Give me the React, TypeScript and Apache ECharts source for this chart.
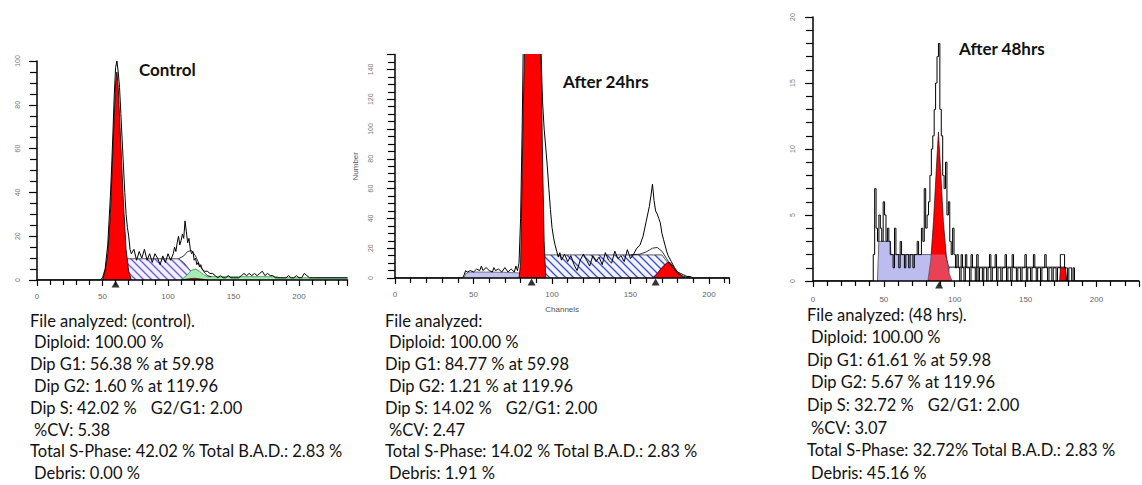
import React, { useEffect, useRef } from "react";
import * as echarts from "echarts";

type P = [number, number][];

// ---------- Panel A : Control ----------
const ctrlRaw: P = [
  [0, 0], [48, 0], [50, 1], [52, 5], [54, 16], [56, 38], [57, 52], [58, 68], [59, 85], [60, 97], [61, 100],
  [62, 95], [63, 88], [64, 76], [65, 64], [66, 52], [67, 40], [68, 30], [69, 24], [70, 20], [71, 14], [72, 12],
  [74, 14], [76, 9], [78, 13], [80, 10], [82, 14], [84, 9], [86, 12], [88, 8], [90, 12], [92, 10], [94, 7],
  [96, 11], [98, 8], [100, 12], [102, 9], [104, 12], [105, 15], [106, 13], [107, 17], [108, 20], [109, 16],
  [110, 18], [111, 21], [112, 19], [113, 27], [114, 22], [115, 17], [116, 19], [117, 14], [118, 12], [119, 13],
  [120, 9], [121, 10], [122, 7], [123, 8], [124, 6], [125, 7], [126, 5], [128, 4], [130, 4], [132, 3], [134, 3],
  [136, 2], [138, 1], [140, 2], [142, 1], [144, 1], [146, 2], [148, 1], [150, 1], [152, 1], [154, 1], [156, 2],
  [158, 3], [160, 2], [162, 3], [164, 2], [166, 3], [168, 2], [170, 3], [172, 4], [174, 2], [176, 3], [178, 2],
  [180, 2], [182, 1], [184, 1], [186, 1], [188, 1], [190, 1], [192, 2], [194, 1], [196, 1], [198, 2], [200, 1],
  [202, 1], [204, 3], [206, 2], [208, 1], [210, 1], [212, 1], [237, 1],
];
const ctrlG1: P = [
  [50, 0], [52, 4], [54, 12], [56, 30], [58, 60], [60, 90], [61, 95], [62, 88], [64, 62], [66, 35], [68, 14],
  [70, 4], [72, 0],
];
const ctrlS: P = [
  [58, 0], [62, 4], [66, 8], [68, 9.7], [108, 9.7], [112, 8], [116, 5], [120, 2.5], [124, 0.5], [126, 0],
];
const ctrlFit: P = [
  [108, 9.7], [112, 11], [115, 13], [118, 13.5], [121, 11], [124, 7], [127, 4], [130, 2], [133, 1.5],
];
const ctrlG2: P = [[110, 0], [115, 0.5], [120, 0.8], [125, 0.5], [130, 0]];
const ctrlDebris: P = [
  [110, 0], [114, 2], [118, 4.5], [121, 5], [124, 4], [127, 2.5], [130, 1.5], [183, 1.5], [185, 1], [237, 1],
];
const ctrlMarks = [60];

// ---------- Panel B : After 24hrs ----------
const h24Raw: P = [
  [0, 0], [43, 0], [44, 2], [45, 5], [46, 4], [48, 5], [50, 4], [52, 6], [54, 5], [55, 8], [56, 5], [58, 7],
  [60, 5], [62, 4], [63, 7], [64, 5], [66, 6], [68, 4], [70, 7], [72, 4], [74, 6], [76, 4], [77, 8], [78, 5],
  [79, 10], [80, 40], [81, 100], [82, 180], [86, 300], [90, 250], [92, 190], [93, 150], [94, 118], [95, 100],
  [96, 88], [97, 75], [98, 60], [99, 46], [100, 34], [101, 27], [102, 22], [103, 18], [104, 14], [105, 17],
  [106, 12], [108, 16], [110, 11], [112, 15], [114, 9], [116, 5], [118, 12], [120, 16], [122, 12], [124, 8],
  [126, 15], [128, 11], [130, 14], [132, 9], [134, 17], [136, 12], [138, 10], [140, 18], [142, 13], [144, 15],
  [146, 11], [148, 19], [150, 13], [152, 16], [154, 20], [156, 22], [158, 28], [160, 38], [162, 48], [163, 55],
  [164, 63], [165, 52], [166, 45], [167, 43], [168, 40], [169, 37], [170, 30], [171, 26], [172, 22], [173, 18],
  [174, 15], [176, 11], [178, 7], [180, 4], [182, 3], [184, 2], [186, 1], [188, 1], [190, 0], [213, 0],
];
const h24G1: P = [
  [79, 0], [80, 10], [81, 70], [82, 130], [83, 170], [86, 300], [90, 280], [92, 200], [93, 150], [94, 80],
  [95, 25], [96, 0],
];
const h24S: P = [
  [80, 0], [84, 4], [88, 9], [92, 13.5], [95, 15.5], [170, 15.5], [174, 10], [178, 4], [182, 0],
];
const h24Fit: P = [
  [150, 15.5], [156, 16], [160, 17.5], [164, 20], [167, 20.5], [170, 18], [173, 13], [176, 8], [180, 3],
  [184, 1], [188, 0],
];
const h24G2: P = [
  [164, 0], [167, 3], [170, 7], [173, 10], [175, 10.5], [177, 8], [180, 4], [183, 1], [185, 0],
];
const h24Debris: P = [
  [44, 0], [45, 3], [48, 4], [60, 4], [70, 3.8], [78, 3.5], [84, 2.5], [90, 1.5], [96, 0.5], [100, 0],
];
const h24Marks = [87, 166];

// ---------- Panel C : After 48hrs ----------
const h48Raw: P = [
  [0, 0], [42, 0], [43, 2], [44, 7], [45, 4], [46, 3], [47, 5], [48, 4], [49, 3], [50, 6], [51, 5], [52, 3],
  [53, 4], [54, 3], [55, 2], [56, 2], [57, 1], [58, 4], [59, 2], [60, 2], [61, 1], [62, 3], [63, 2], [64, 2],
  [65, 1], [66, 2], [67, 2], [68, 1], [69, 2], [70, 2], [71, 1], [72, 2], [73, 2], [74, 3], [75, 2], [76, 2],
  [77, 4], [78, 3], [79, 7], [80, 4], [81, 5], [82, 6], [83, 8], [84, 10], [85, 11], [86, 13], [87, 15],
  [88, 17], [89, 18], [90, 13], [91, 11], [92, 8], [93, 7], [94, 9], [95, 5], [96, 6], [97, 3], [98, 2],
  [99, 4], [100, 2], [101, 1], [102, 2], [103, 1], [104, 0], [105, 2], [106, 1], [107, 0], [108, 2], [109, 1],
  [110, 1], [111, 0], [112, 2], [113, 1], [114, 1], [115, 0], [116, 2], [117, 0], [118, 1], [119, 1], [120, 0],
  [121, 1], [122, 1], [123, 0], [124, 1], [125, 2], [126, 0], [127, 1], [128, 1], [129, 2], [130, 0], [131, 1],
  [132, 1], [133, 0], [134, 1], [135, 1], [136, 2], [137, 0], [138, 1], [139, 1], [140, 0], [141, 2], [142, 1],
  [143, 1], [144, 0], [145, 1], [146, 1], [147, 0], [148, 1], [149, 1], [150, 2], [151, 0], [152, 1], [153, 1],
  [154, 0], [155, 1], [156, 2], [157, 1], [158, 0], [159, 1], [160, 1], [161, 0], [162, 1], [163, 1], [164, 2],
  [165, 1], [166, 0], [167, 1], [168, 1], [169, 0], [170, 1], [171, 1], [172, 0], [173, 1], [174, 1], [175, 2],
  [176, 2], [177, 2], [178, 1], [179, 1], [180, 0], [181, 1], [182, 1], [183, 0], [184, 1], [185, 0], [230, 0],
];
const h48G1: P = [
  [81, 0], [83, 1.5], [85, 4.5], [87, 8.5], [88.5, 11.3], [90, 8.5], [92, 4.5], [94, 2], [96, 0.6], [98, 0],
];
const h48S: P = [[95, 0], [96, 1.05], [178, 1.05], [179, 0]];
const h48G2: P = [[174, 0], [174.5, 1], [178, 1], [178.5, 0]];
const h48Debris: P = [
  [45.5, 0], [46.5, 3], [54.5, 3], [55, 2], [93, 2], [96, 1], [98, 0],
];
const h48Marks = [89];

// ---------- Axes ----------
const xMaxes = [237, 213, 230];
const yMaxes = [100, 150, 20];
const yIntervals = [20, 20, 5];
const yMinorSplits = [4, 4, 5];

// ---------- Texts ----------
const titles = ["Control", "After 24hrs", "After 48hrs"];
const ctrlInfo = [
  "File analyzed: (control).",
  " Diploid: 100.00 %",
  "Dip G1: 56.38 % at 59.98",
  " Dip G2: 1.60 % at 119.96",
  "Dip S: 42.02 %   G2/G1: 2.00",
  " %CV: 5.38",
  "Total S-Phase: 42.02 % Total B.A.D.: 2.83 %",
  " Debris: 0.00 %",
];
const h24Info = [
  "File analyzed:",
  " Diploid: 100.00 %",
  "Dip G1: 84.77 % at 59.98",
  " Dip G2: 1.21 % at 119.96",
  "Dip S: 14.02 %   G2/G1: 2.00",
  " %CV: 2.47",
  "Total S-Phase: 14.02 % Total B.A.D.: 2.83 %",
  " Debris: 1.91 %",
];
const h48Info = [
  "File analyzed: (48 hrs).",
  " Diploid: 100.00 %",
  "Dip G1: 61.61 % at 59.98",
  " Dip G2: 5.67 % at 119.96",
  "Dip S: 32.72 %   G2/G1: 2.00",
  " %CV: 3.07",
  "Total S-Phase: 32.72% Total B.A.D.: 2.83 %",
  " Debris: 45.16 %",
];

const GRIDS = [
  { left: 37, top: 61, width: 310.5, height: 219 },
  { left: 395, top: 54.5, width: 334.4, height: 223.5 },
  { left: 813, top: 17, width: 328, height: 264 },
];
const TEXT_FONT = "Lato, 'Open Sans', sans-serif";
const INFO_SIZE = 16.5;

function makeHatch(line: string, bg: string) {
  const c = document.createElement("canvas");
  c.width = 8;
  c.height = 8;
  const g = c.getContext("2d")!;
  g.fillStyle = bg;
  g.fillRect(0, 0, 8, 8);
  g.strokeStyle = line;
  g.lineWidth = 1.3;
  g.beginPath();
  g.moveTo(-1, -1);
  g.lineTo(9, 9);
  g.moveTo(-1, 7);
  g.lineTo(1, 9);
  g.moveTo(7, -1);
  g.lineTo(9, 1);
  g.stroke();
  return c;
}

function area(data: P, gi: number, fill: any, stroke: string, lw: number, z: number, opacity = 1): any {
  return {
    type: "line",
    data,
    xAxisIndex: gi,
    yAxisIndex: gi,
    showSymbol: false,
    symbol: "none",
    silent: true,
    z,
    lineStyle: { color: stroke, width: lw, opacity: lw > 0 ? 1 : 0 },
    areaStyle: { color: fill, opacity },
  };
}

function rawLine(data: P, gi: number, step: any): any {
  return {
    type: "line",
    data,
    xAxisIndex: gi,
    yAxisIndex: gi,
    showSymbol: false,
    symbol: "none",
    silent: true,
    step,
    z: 8,
    lineStyle: { color: "#000", width: 1 },
  };
}

function marks(xs: number[], gi: number): any {
  return {
    type: "scatter",
    data: xs.map((x) => [x, 0]),
    xAxisIndex: gi,
    yAxisIndex: gi,
    symbol: "triangle",
    symbolSize: [8, 7],
    symbolOffset: [0, 4],
    clip: false,
    silent: true,
    z: 12,
    itemStyle: { color: "#000" },
  };
}

export default function App() {
  const ref = useRef<HTMLDivElement>(null);
  useEffect(() => {
    if (!ref.current) return;
    const chart = echarts.init(ref.current, undefined, { renderer: "svg" });
    const hatchA = makeHatch("#6a5ad8", "#f2f0ff");
    const hatchB = makeHatch("#3a4ed0", "#f2f2ff");

    const meas = document.createElement("canvas").getContext("2d")!;
    meas.font = `${INFO_SIZE}px ${TEXT_FONT}`;

    const xAxis = xMaxes.map((mx, i) => ({
      type: "value",
      gridIndex: i,
      min: 0,
      max: mx,
      interval: 50,
      z: 6,
      name: i === 1 ? "Channels" : "",
      nameLocation: "middle",
      nameGap: 27,
      nameTextStyle: { fontSize: 8, color: "#555", fontFamily: "Liberation Sans" },
      axisLine: { show: true, lineStyle: { color: "#000", width: 1.5 } },
      axisTick: { show: true, length: 6, lineStyle: { color: "#000", width: 1.2 } },
      minorTick: { show: true, splitNumber: 5, length: 5, lineStyle: { color: "#000", width: 1.2 } },
      splitLine: { show: false },
      minorSplitLine: { show: false },
      axisLabel: {
        fontSize: 8,
        color: "#666",
        fontFamily: "Liberation Sans",
        margin: [12, 12, 14][i],
        formatter: (v: number) => (v % 50 === 0 ? String(v) : ""),
      },
    }));
    const yAxis = yMaxes.map((mx, i) => ({
      type: "value",
      gridIndex: i,
      min: 0,
      max: mx,
      interval: yIntervals[i],
      z: 6,
      name: i === 1 ? "Number" : "",
      nameLocation: "middle",
      nameRotate: 90,
      nameGap: 36,
      nameTextStyle: { fontSize: 8, color: "#555", fontFamily: "Liberation Sans" },
      axisLine: { show: true, lineStyle: { color: "#000", width: 1.5 } },
      axisTick: { show: true, length: 8, lineStyle: { color: "#000", width: 1.2 } },
      minorTick: { show: true, splitNumber: yMinorSplits[i], length: 7, lineStyle: { color: "#000", width: 1.2 } },
      splitLine: { show: false },
      minorSplitLine: { show: false },
      axisLabel: {
        fontSize: 7,
        color: "#777",
        rotate: 90,
        fontFamily: "Liberation Sans",
        margin: [16, 21, 17][i],
        formatter: (v: number) => (v % yIntervals[i] === 0 ? String(v) : ""),
      },
    }));

    const series: any[] = [
      // Panel A
      area(ctrlS, 0, { image: hatchA, repeat: "repeat" }, "#333", 0.8, 3),
      area(ctrlDebris, 0, "#a6ebb4", "#2f8f45", 0.8, 4),
      area(ctrlG2, 0, "#ff0000", "#000", 0.6, 4),
      area(ctrlG1, 0, "#ff0000", "#000", 0.8, 5),
      { ...area(ctrlFit, 0, "rgba(0,0,0,0)", "#000", 0.8, 6), areaStyle: undefined },
      rawLine(ctrlRaw, 0, false),
      marks(ctrlMarks, 0),
      // Panel B
      area(h24Debris, 1, "#c4c4f2", "#333", 0.6, 3),
      area(h24S, 1, { image: hatchB, repeat: "repeat" }, "#333", 0.8, 4),
      area(h24G2, 1, "#ff0000", "#000", 0.8, 5),
      area(h24G1, 1, "#ff0000", "#000", 0.8, 5),
      { ...area(h24Fit, 1, "rgba(0,0,0,0)", "#000", 0.8, 6), areaStyle: undefined },
      rawLine(h24Raw, 1, false),
      marks(h24Marks, 1),
      // Panel C
      area(h48Debris, 2, "#bcbcf2", "#333", 0.8, 3),
      area(h48S, 2, "#ffffff", "#000", 0.9, 4),
      area(h48G2, 2, "#ff0000", "#000", 0.6, 5),
      area(h48G1, 2, "#ff0000", "#000", 0.6, 5),
      area(h48Debris, 2, "#bcbcf2", "#333", 0, 6, 0.35),
      rawLine(h48Raw, 2, "middle"),
      marks(h48Marks, 2),
    ];

    const graphic: any[] = [];
    const titlePos = [
      [139, 69],
      [563, 81],
      [959, 48],
    ];
    titles.forEach((t, i) => {
      graphic.push({
        type: "text",
        x: titlePos[i][0],
        y: titlePos[i][1],
        style: {
          text: t,
          font: `bold 17px ${TEXT_FONT}`,
          fill: "#111",
          textVerticalAlign: "middle",
          verticalAlign: "middle",
        },
        z: 20,
      });
    });
    const blocks = [
      { lines: ctrlInfo, x: 30, y: 320.5, dy: 21.8 },
      { lines: h24Info, x: 385, y: 320.5, dy: 21.8 },
      { lines: h48Info, x: 807, y: 314.5, dy: 22.6 },
    ];
    blocks.forEach((b) => {
      b.lines.forEach((ln, k) => {
        const indent = ln.startsWith(" ") ? 4 : 0;
        const parts = ln.trim().split(/\s{2,}/);
        let x = b.x + indent;
        parts.forEach((p) => {
          graphic.push({
            type: "text",
            x,
            y: b.y + k * b.dy,
            style: {
              text: p,
              font: `${INFO_SIZE}px ${TEXT_FONT}`,
              fill: "#111",
              textVerticalAlign: "middle",
              verticalAlign: "middle",
            },
            z: 20,
          });
          x += meas.measureText(p).width + 14;
        });
      });
    });

    chart.setOption({
      animation: false,
      backgroundColor: "#fff",
      grid: GRIDS.map((g) => ({ ...g, containLabel: false })),
      xAxis,
      yAxis,
      series,
      graphic,
    });
    return () => chart.dispose();
  }, []);
  return (
    <div
      ref={ref}
      style={{ position: "fixed", left: 0, top: 0, width: 1142, height: 485 }}
    />
  );
}
